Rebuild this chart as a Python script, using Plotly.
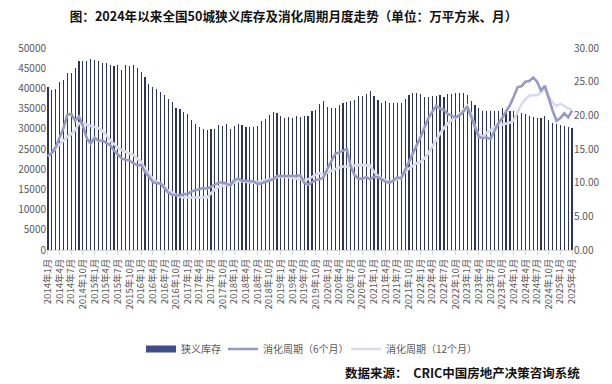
import plotly.graph_objects as go

inventory = [40300, 39600, 39850, 41500, 42100, 43700, 43900, 45000, 46800, 46800, 46800, 47200,
             47000, 46900, 46300, 46200, 45800, 45600, 45800, 44600, 45800, 45600, 45800, 45000,
             44000, 42700, 41100, 40400, 39800, 39200, 38400, 37400, 36700, 35100, 34800, 34100,
             33600, 32300, 31100, 30400, 29900, 29700, 29900, 29900, 30900, 30700, 31100, 29900,
             30700, 31100, 30900, 30400, 30400, 30400, 30700, 31900, 32400, 33400, 34100, 33800,
             33100, 32700, 32900, 32700, 33100, 32800, 33100, 33200, 34400, 34650, 36100, 36900,
             35500, 35100, 35100, 35900, 36300, 36700, 36900, 37100, 38100, 38100, 38600, 39350,
             38100, 37100, 36500, 36900, 36300, 36300, 36300, 36500, 37500, 38400, 38800, 38800,
             38600, 37800, 37900, 38100, 38100, 38400, 37950, 38600, 38600, 38800, 38900, 38800,
             38400, 36900, 35900, 35100, 34500, 34300, 34300, 34300, 34500, 35100, 34500, 34500,
             34300, 34000, 34000, 33700, 33200, 32800, 32700, 32700, 33200, 32200, 31400, 31200,
             31000, 30700, 30500, 30200]

cycle6 = [14.0, 14.4, 15.3, 16.6, 18.1, 20.1, 20.2, 19.2, 19.8, 18.4, 16.6, 15.8,
          16.7, 16.2, 16.3, 15.9, 15.6, 14.8, 14.2, 13.6, 13.4, 13.3, 12.9, 12.6,
          12.6, 11.6, 10.9, 10.1, 9.9, 9.9, 9.2, 8.5, 8.2, 8.1, 8.1, 8.3,
          8.3, 8.7, 8.9, 9.0, 9.2, 9.1, 9.4, 9.8, 10.0, 10.1, 9.8, 9.6,
          10.4, 10.6, 10.3, 10.2, 10.2, 10.2, 9.8, 9.9, 10.1, 10.3, 10.5, 11.0,
          11.0, 10.9, 11.0, 10.9, 11.0, 11.1, 10.0, 9.7, 10.0, 10.4, 10.5, 10.8,
          12.1, 13.3, 14.3, 14.5, 14.7, 15.0, 12.4, 11.1, 10.6, 10.6, 10.8, 10.5,
          10.9, 10.8, 10.5, 10.1, 10.0, 10.3, 10.8, 10.6, 11.9, 13.1, 14.4, 15.4,
          16.8, 18.2, 19.6, 20.5, 21.4, 21.0, 20.8, 20.2, 19.9, 19.7, 20.0, 20.5,
          21.3, 19.8, 18.2, 16.8, 16.6, 16.7, 16.5, 17.6, 18.8, 19.6, 20.5, 21.5,
          22.8, 24.2, 24.3, 25.0, 25.1, 25.6, 25.0, 23.7, 24.4, 22.4, 20.7, 19.2,
          19.6, 20.3, 19.7, 20.7]

cycle12 = [13.9, 14.4, 15.1, 15.7, 16.3, 16.8, 17.2, 17.8, 18.8, 18.8, 18.6, 18.4,
           18.2, 18.1, 17.7, 17.1, 16.3, 15.8, 15.2, 14.85, 14.6, 14.45, 14.1, 13.6,
           13.1, 12.1, 11.4, 10.6, 10.1, 9.9, 9.4, 8.8, 8.5, 8.2, 7.9, 7.8,
           7.8, 7.7, 7.7, 7.8, 7.8, 7.8, 8.4, 9.0, 9.4, 9.6, 9.7, 9.8,
           10.0, 10.2, 10.2, 10.1, 10.1, 10.0, 10.1, 10.2, 10.3, 10.4, 10.6, 10.8,
           10.9, 10.9, 10.8, 10.7, 10.6, 10.5, 10.4, 10.5, 10.9, 11.2, 11.4, 11.2,
           11.5, 11.8, 12.0, 12.2, 12.4, 12.4, 12.5, 12.6, 12.6, 12.6, 12.6, 12.5,
           11.6, 11.0, 10.6, 10.4, 10.1, 10.4, 10.5, 10.9, 11.6, 12.1, 12.5, 12.9,
           13.1, 13.6, 14.4, 15.4, 16.4, 17.3, 18.1, 18.8, 19.3, 19.6, 20.2, 20.8,
           21.4, 20.2, 18.3, 17.1, 16.8, 17.4, 17.8, 18.2, 18.6, 18.6, 18.7, 18.9,
           19.3, 20.5, 21.7, 22.4, 22.9, 23.0, 23.0, 23.4, 23.9, 22.8, 21.9, 21.4,
           21.7, 21.4, 21.0, 20.9]

months = [f"{2014 + i // 12}年{i % 12 + 1}月" for i in range(len(inventory))]
x = list(range(len(inventory)))
tick_idx = list(range(0, len(inventory), 3))
tick_text = [months[i] for i in tick_idx]

FONT = "Noto Sans CJK SC"
GREY = "#595959"
BAR_C = "#2e3656"
L6_C = "#9599c4"
L12_C = "#d9dcee"

W, H = 612, 384
L, R, T, B = 47, 39, 48, 134
PW = W - L - R
PH = H - T - B


def px_x(p):
    return (p - L) / PW


def px_y(p):
    return (T + PH - p) / PH


fig = go.Figure()
fig.add_trace(go.Bar(x=x, y=inventory, name="狭义库存", marker=dict(color=BAR_C, line_width=0),
                     width=0.3, showlegend=False))
fig.add_trace(go.Scatter(x=x, y=cycle12, name="消化周期（12个月）", yaxis="y2", mode="lines",
                         line=dict(color=L12_C, width=2.6), showlegend=False))
fig.add_trace(go.Scatter(x=x, y=cycle6, name="消化周期（6个月）", yaxis="y2", mode="lines",
                         line=dict(color=L6_C, width=2.6), showlegend=False))
# legend entries (one legend each so they can be placed like the original)
fig.add_trace(go.Scatter(x=[None], y=[None], name="狭义库存", mode="lines",
                         line=dict(color="#3f4d8a", width=7), legend="legend"))
fig.add_trace(go.Scatter(x=[None], y=[None], name="消化周期（6个月）", mode="lines",
                         line=dict(color=L6_C, width=2.6), legend="legend2"))
fig.add_trace(go.Scatter(x=[None], y=[None], name="消化周期（12个月）", mode="lines",
                         line=dict(color=L12_C, width=2.6), legend="legend3"))

leg_common = dict(orientation="h", xanchor="left", yanchor="middle", y=px_y(349),
                  font=dict(size=10, color=GREY), itemwidth=30, bgcolor="rgba(0,0,0,0)")

fig.update_layout(
    width=W, height=H,
    margin=dict(l=L, r=R, t=T, b=B, autoexpand=False),
    paper_bgcolor="white", plot_bgcolor="white",
    font=dict(family=FONT, size=10, color=GREY),
    bargap=0,
    showlegend=True,
    legend=dict(x=px_x(141), **leg_common),
    legend2=dict(x=px_x(223), **leg_common),
    legend3=dict(x=px_x(346), **leg_common),
    title=dict(text="<b>图：2024年以来全国50城狭义库存及消化周期月度走势（单位：万平方米、月）</b>",
               x=293.5 / W, xanchor="center", y=1 - 17 / H, yanchor="middle",
               font=dict(family=FONT, size=12.6, color="#111111")),
    xaxis=dict(range=[-0.25, 135.25], tickmode="array", tickvals=tick_idx, ticktext=tick_text,
               tickangle=-90, tickfont=dict(size=9.5, color=GREY), showgrid=False,
               showline=True, linecolor="#d9d9d9", linewidth=1, ticks="outside",
               tickcolor="#d9d9d9", ticklen=4, zeroline=False, automargin=False),
    yaxis=dict(range=[0, 50000], tickmode="array", tickvals=list(range(0, 50001, 5000)),
               tickformat="d", showgrid=False, zeroline=False, showline=False,
               tickfont=dict(size=10, color=GREY), ticks="", automargin=False),
    yaxis2=dict(range=[0, 30], overlaying="y", side="right", tickmode="array",
                tickvals=[0, 5, 10, 15, 20, 25, 30], tickformat=".2f", showgrid=False,
                zeroline=False, showline=False, tickfont=dict(size=10, color=GREY),
                automargin=False),
)

fig.add_annotation(text="<b>数据来源：  CRIC中国房地产决策咨询系统</b>", xref="paper", yref="paper",
                   x=px_x(582), xanchor="right", y=px_y(372),
                   yanchor="middle", showarrow=False,
                   font=dict(family=FONT, size=12.5, color="#111111"))

fig.write_html("out.html", config={"displayModeBar": False, "staticPlot": True},
               post_script="document.body.style.margin='0';")
